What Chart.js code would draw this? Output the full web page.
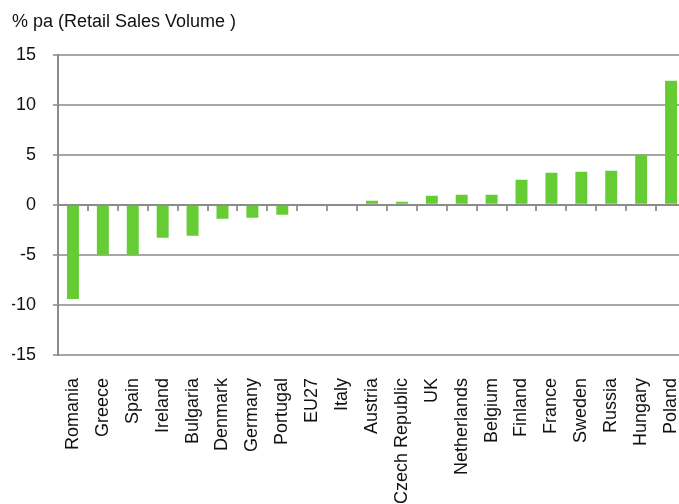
<!DOCTYPE html>
<html>
<head>
<meta charset="utf-8">
<script src="https://cdn.jsdelivr.net/npm/chart.js@4/dist/chart.umd.min.js"></script>
<style>
  html, body { margin: 0; padding: 0; background: #fff; overflow: hidden; }
  #wrap { width: 686px; height: 504px; }
</style>
</head>
<body>
<div id="wrap"><canvas id="barChart" width="686" height="504"></canvas></div>
<script>
const countries = ["Romania", "Greece", "Spain", "Ireland", "Bulgaria", "Denmark", "Germany", "Portugal", "EU27", "Italy", "Austria", "Czech Republic", "UK", "Netherlands", "Belgium", "Finland", "France", "Sweden", "Russia", "Hungary", "Poland"];
const salesGrowth = [-9.4, -5.0, -5.0, -3.3, -3.1, -1.4, -1.3, -1.0, 0.0, 0.0, 0.4, 0.3, 0.9, 1.0, 1.0, 2.5, 3.2, 3.3, 3.4, 5.0, 12.4];
const yMin = -15;
const yMax = 15;
const yStep = 5;
const titleText = "% pa (Retail Sales Volume )";

const FONT = "'Liberation Sans', Arial, sans-serif";
const CHART = document.getElementById("barChart");

let barChart = new Chart(CHART, {
  type: "bar",
  data: {
    labels: countries,
    datasets: [
      {
        label: "Retail Sales Volume",
        data: salesGrowth,
        backgroundColor: "#66cc33",
        borderWidth: 0,
        barPercentage: 0.4,
        categoryPercentage: 1.0,
        xAxisID: "x",
      },
    ],
  },
  options: {
    responsive: false,
    animation: false,
    devicePixelRatio: 1,
    layout: { padding: { left: 12, right: 0, top: 0, bottom: 0 } },
    plugins: {
      legend: { display: false },
      tooltip: { enabled: false },
      title: {
        display: true,
        text: titleText,
        align: "start",
        color: "#111",
        font: { family: FONT, size: 18, weight: "normal" },
        padding: { top: 11, bottom: 22 },
      },
    },
    scales: {
      x: {
        type: "category",
        position: "bottom",
        offset: true,
        grid: { display: false, drawTicks: false },
        border: { display: false },
        ticks: {
          autoSkip: false,
          maxRotation: 90,
          minRotation: 90,
          padding: 23,
          color: "#111",
          font: { family: FONT, size: 18 },
        },
        afterFit: function (scale) {
          // labels run off the bottom edge in the original
          scale.height = 149;
          scale.paddingLeft = 0;
          scale.paddingRight = 0;
        },
      },
      x2: {
        type: "category",
        labels: countries,
        position: { y: 0 },
        offset: true,
        grid: {
          display: true,
          offset: true,
          drawOnChartArea: false,
          drawTicks: true,
          tickLength: 5,
          color: "#999",
          lineWidth: 2,
        },
        border: { display: true, color: "#8c8c8c", width: 2 },
        ticks: { display: false },
      },
      y: {
        position: "left",
        min: yMin,
        max: yMax,
        ticks: {
          stepSize: yStep,
          padding: 17,
          color: "#111",
          font: { family: FONT, size: 18 },
        },
        grid: {
          color: "#a6a6a6",
          lineWidth: 2,
          drawTicks: true,
          tickLength: 5,
        },
        border: { display: true, color: "#8c8c8c", width: 2 },
        afterFit: function (scale) {
          scale.width = 46;
        },
      },
    },
  },
});
</script>
</body>
</html>
